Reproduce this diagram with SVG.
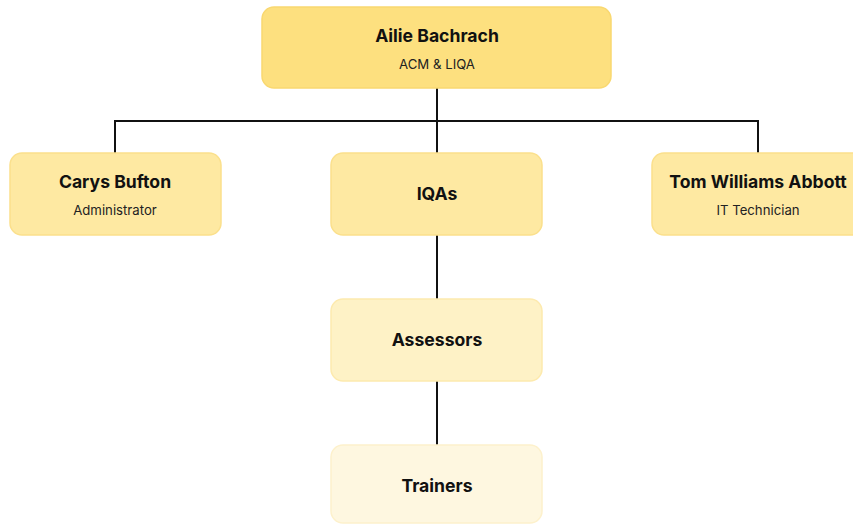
<svg xmlns="http://www.w3.org/2000/svg" width="853" height="525" viewBox="0 0 853 525">
<style>
.box{stroke-width:1.5}
.t{font-family:Inter,"Liberation Sans",sans-serif;font-weight:700;font-size:17.6px;fill:#111;text-anchor:middle}
.s{font-family:Inter,"Liberation Sans",sans-serif;font-size:13.2px;fill:#222;text-anchor:middle}
.c{stroke:#111;stroke-width:2;fill:none}
</style>
<rect width="853" height="525" fill="#fff"/>
<g id="connectors">
<path class="c" d="M437 88V153M115 121H758M115 120V153M758 120V153M437 235V299M437 381V445"/>
</g>
<g id="n-ailie"><rect class="box" x="262" y="7" width="349" height="81" rx="12" fill="#FDE07F" stroke="#F9D870"/><text class="t" x="437" y="42">Ailie Bachrach</text><text class="s" x="437" y="69">ACM &amp; LIQA</text></g>
<g id="n-carys"><rect class="box" x="10" y="153" width="211" height="82" rx="12" fill="#FEE9A2" stroke="#FBE08C"/><text class="t" x="115" y="188">Carys Bufton</text><text class="s" x="115" y="215">Administrator</text></g>
<g id="n-iqas"><rect class="box" x="331" y="153" width="211" height="82" rx="12" fill="#FEE9A2" stroke="#FBE08C"/><text class="t" x="437" y="200">IQAs</text></g>
<g id="n-tom"><rect class="box" x="652" y="153" width="212" height="82" rx="12" fill="#FEE9A2" stroke="#FBE08C"/><text class="t" x="758" y="188">Tom Williams Abbott</text><text class="s" x="758" y="215">IT Technician</text></g>
<g id="n-assessors"><rect class="box" x="331" y="299" width="211" height="82" rx="12" fill="#FEF2C6" stroke="#FDEAAE"/><text class="t" x="437" y="346">Assessors</text></g>
<g id="n-trainers"><rect class="box" x="331" y="445" width="211" height="78" rx="12" fill="#FEF7E0" stroke="#FDF1CC"/><text class="t" x="437" y="492">Trainers</text></g>
</svg>
